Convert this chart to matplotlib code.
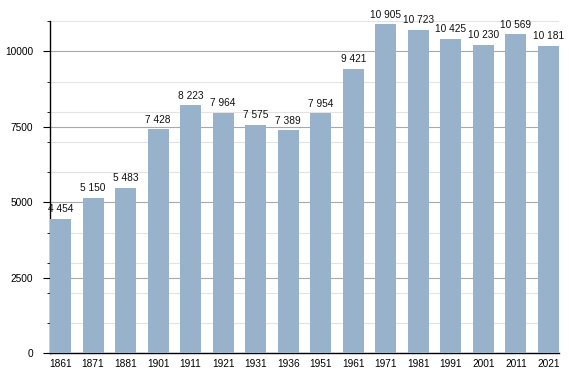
import numpy as np
import matplotlib.pyplot as plt
from matplotlib.ticker import MultipleLocator

years = ['1861', '1871', '1881', '1901', '1911', '1921', '1931', '1936',
         '1951', '1961', '1971', '1981', '1991', '2001', '2011', '2021']
population = [4454, 5150, 5483, 7428, 8223, 7964, 7575, 7389,
              7954, 9421, 10905, 10723, 10425, 10230, 10569, 10181]

plt.rcParams['font.family'] = ['Liberation Sans', 'DejaVu Sans']

fig = plt.figure(figsize=(5.88, 3.73), dpi=100)
ax = fig.add_axes([50/588, 19.7/373, 509/588, 332/373])

x = np.arange(len(years))
w = 0.645
ax.bar(x, population, width=w, color='#98b2cb', zorder=3)

for xi, v in zip(x, population):
    lab = '{:,}'.format(v).replace(',', ' ')
    ax.text(xi, v + 150, lab, ha='center', va='bottom', fontsize=7.3,
            color='#111111', zorder=4)

ax.set_xlim(-w/2, len(years) - 1 + w/2)
ax.set_ylim(0, 11000)
ax.set_xticks(x)
ax.set_xticklabels(years)
ax.yaxis.set_major_locator(MultipleLocator(2500))
ax.yaxis.set_minor_locator(MultipleLocator(1000))
ax.grid(which='minor', axis='y', color='#e3e3e3', linewidth=0.8, zorder=0)
ax.grid(which='major', axis='y', color='#a8a8a8', linewidth=0.8, zorder=1)

for s in ['top', 'right']:
    ax.spines[s].set_visible(False)
ax.spines['left'].set_linewidth(1.0)
ax.spines['bottom'].set_linewidth(1.0)
ax.tick_params(axis='x', length=0, labelsize=7.3, pad=4)
ax.tick_params(axis='y', which='major', length=5, labelsize=7.3, pad=7)
ax.tick_params(axis='y', which='minor', length=2.5)

fig.savefig('out.png', dpi=100)
